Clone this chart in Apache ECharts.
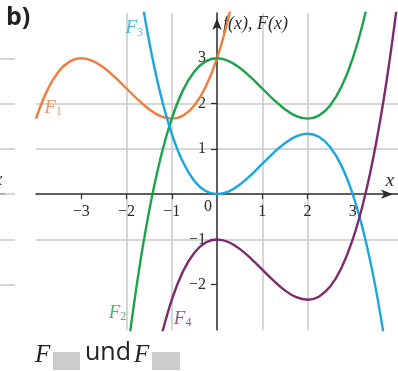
<!DOCTYPE html>
<html>
<head>
<meta charset="utf-8">
<title>F1 - F4</title>
<script src="https://cdn.jsdelivr.net/npm/echarts@6/dist/echarts.min.js"></script>
<style>
  html, body { margin: 0; padding: 0; background: #fff; }
  #main { width: 398px; height: 371px; }
</style>
</head>
<body>
<div id="main"></div>
<script type="text/javascript">
// values, step 0.25
var f1X = [-4, -3.75, -3.5, -3.25, -3, -2.75, -2.5, -2.25, -2, -1.75, -1.5, -1.25, -1, -0.75, -0.5, -0.25, 0, 0.25, 0.5];
var f1Y = [1.667, 2.297, 2.708, 2.932, 3, 2.943, 2.792, 2.578, 2.333, 2.089, 1.875, 1.724, 1.667, 1.734, 1.958, 2.37, 3, 3.88, 5.04];

var f2X = [-2, -1.75, -1.5, -1.25, -1, -0.75, -0.5, -0.25, 0, 0.25, 0.5, 0.75, 1, 1.25, 1.5, 1.75, 2, 2.25, 2.5, 2.75, 3, 3.25, 3.5];
var f2Y = [-3.667, -1.849, -0.375, 0.786, 1.667, 2.297, 2.708, 2.932, 3, 2.943, 2.792, 2.578, 2.333, 2.089, 1.875, 1.724, 1.667, 1.734, 1.958, 2.37, 3, 3.88, 5.04];

var f3X = [-1.75, -1.5, -1.25, -1, -0.75, -0.5, -0.25, 0, 0.25, 0.5, 0.75, 1, 1.25, 1.5, 1.75, 2, 2.25, 2.5, 2.75, 3, 3.25, 3.5, 3.75];
var f3Y = [4.849, 3.375, 2.214, 1.333, 0.703, 0.292, 0.068, 0, 0.057, 0.208, 0.422, 0.667, 0.911, 1.125, 1.276, 1.333, 1.266, 1.042, 0.63, 0, -0.88, -2.042, -3.516];

var f4X = [-1.25, -1, -0.75, -0.5, -0.25, 0, 0.25, 0.5, 0.75, 1, 1.25, 1.5, 1.75, 2, 2.25, 2.5, 2.75, 3, 3.25, 3.5, 3.75, 4];
var f4Y = [-3.214, -2.333, -1.703, -1.292, -1.068, -1, -1.057, -1.208, -1.422, -1.667, -1.911, -2.125, -2.276, -2.333, -2.266, -2.042, -1.63, -1, -0.12, 1.042, 2.516, 4.333];

var xTicks = [-3, -2, -1, 1, 2, 3];
var xLabels = [-3, -2, -1, 0, 1, 2, 3];
var yTicks = [-2, -1, 1, 2, 3];

var curveNames = ['1', '2', '3', '4'];
// where the F-labels sit, in axis units
var labelPos = [[-3.62, 1.9], [-2.2, -2.62], [-1.83, 3.66], [-0.76, -2.76]];

var colors = ['#ef7d3c', '#1aa34a', '#1ba6e0', '#7d2a6f'];

function pairs(xs, ys) {
    var out = [];
    for (var i = 0; i < xs.length; i++) out.push([xs[i], ys[i]]);
    return out;
}
function minus(v) {
    return String(v).replace('-', '\u2212');
}

var serif = '"Liberation Serif", "DejaVu Serif", serif';
var sans = '"Open Sans", "Noto Sans", sans-serif';
var gridColor = '#c8c8c8';
var axisColor = '#2a2a2a';

var myChart = echarts.init(document.getElementById('main'));

var curves = [[f1X, f1Y], [f2X, f2Y], [f3X, f3Y], [f4X, f4Y]];
var series = [];
for (var i = 0; i < curves.length; i++) {
    series.push({
        type: 'line',
        name: 'F' + curveNames[i],
        data: pairs(curves[i][0], curves[i][1]),
        smooth: 0.4,
        showSymbol: false,
        silent: true,
        clip: true,
        lineStyle: { color: colors[i], width: 2.4 },
        z: 3
    });
}

var labelData = [];
for (var k = 0; k < curveNames.length; k++) {
    labelData.push({
        value: labelPos[k],
        name: curveNames[k],
        label: { color: colors[k] }
    });
}
series.push({
    type: 'scatter',
    data: labelData,
    symbolSize: 0,
    silent: true,
    label: {
        show: true,
        position: 'inside',
        formatter: function (p) { return '{f|F}{s|' + p.name + '}'; },
        rich: {
            f: { fontFamily: serif, fontStyle: 'italic', fontSize: 19, lineHeight: 20 },
            s: { fontFamily: serif, fontSize: 12, lineHeight: 8, verticalAlign: 'bottom' }
        }
    },
    z: 4
});

var option = {
    animation: false,
    grid: [
        { left: 36, right: 0, top: 13, bottom: 41, outerBoundsMode: 'none' },
        { left: -185, width: 200, top: 13, bottom: 41, outerBoundsMode: 'none' }
    ],
    xAxis: [{
        type: 'value',
        position: 'bottom',
        min: -4,
        max: 4,
        interval: 1,
        name: 'x',
        nameLocation: 'end',
        nameGap: -8,
        nameTextStyle: {
            fontFamily: serif, fontStyle: 'italic', fontSize: 19, color: axisColor,
            align: 'center', verticalAlign: 'bottom', padding: [0, 0, 4, 0]
        },
        axisLine: {
            onZero: false,
            symbol: ['none', 'arrow'],
            symbolSize: [7, 12],
            symbolOffset: [0, -5],
            lineStyle: { color: axisColor, width: 1.5 }
        },
        axisTick: { show: true, length: 5, customValues: xTicks, lineStyle: { color: axisColor, width: 1.2 } },
        axisLabel: {
            customValues: xLabels,
            margin: 10,
            fontFamily: serif,
            fontSize: 16,
            color: axisColor,
            formatter: function (v) {
                if (v === 0) return '{z|0}';
                return minus(v);
            },
            rich: {
                z: { fontFamily: serif, fontSize: 16, color: axisColor, padding: [0, 18, 0, 0], lineHeight: 6 }
            }
        },
        splitLine: {
            show: true, showMinLine: false, showMaxLine: false,
            lineStyle: { color: gridColor, width: 1.5 }
        }
    }, {
        gridIndex: 1, type: 'value', min: 0, max: 1, show: false
    }],
    yAxis: [{
        type: 'value',
        position: 'left',
        min: -3,
        max: 4,
        interval: 1,
        name: 'f(x), F(x)',
        nameLocation: 'end',
        nameGap: -11,
        nameTextStyle: {
            fontFamily: serif, fontStyle: 'italic', fontSize: 18, color: axisColor,
            align: 'left', verticalAlign: 'middle', padding: [0, 0, 0, 6]
        },
        axisLine: {
            onZero: false,
            symbol: ['none', 'arrow'],
            symbolSize: [7, 12],
            symbolOffset: [0, -5],
            lineStyle: { color: axisColor, width: 1.5 }
        },
        axisTick: { show: true, length: 6, customValues: yTicks, lineStyle: { color: axisColor, width: 1.2 } },
        axisLabel: {
            customValues: yTicks,
            margin: 11,
            fontFamily: serif,
            fontSize: 16,
            color: axisColor,
            formatter: minus
        },
        splitLine: {
            show: true, showMinLine: false, showMaxLine: false,
            lineStyle: { color: gridColor, width: 1.5 }
        }
    }, {
        gridIndex: 1,
        type: 'value',
        min: -3,
        max: 4,
        interval: 1,
        axisLine: { show: false },
        axisTick: { show: false },
        axisLabel: { show: false },
        splitLine: {
            show: true, showMinLine: false, showMaxLine: false,
            lineStyle: { color: gridColor, width: 1.5 }
        }
    }],
    graphic: [
        { type: 'text', left: 6, top: 5, style: { text: 'b)', fontFamily: sans, fontWeight: 'bold', fontSize: 25, fill: '#222' } },
        { type: 'line', shape: { x1: 0, y1: 194, x2: 5, y2: 194 }, style: { stroke: axisColor, lineWidth: 1.5 } },
        { type: 'text', left: -6, top: 170, style: { text: 'x', fontFamily: serif, fontStyle: 'italic', fontSize: 19, fill: axisColor } },
        { type: 'text', left: 35, top: 343, style: { text: 'F', fontFamily: serif, fontStyle: 'italic', fontSize: 25, fill: '#222' } },
        { type: 'rect', shape: { x: 53, y: 352, width: 27, height: 18 }, style: { fill: '#cbcbcb' } },
        { type: 'text', left: 85, top: 340, style: { text: 'und', fontFamily: sans, fontSize: 25, fill: '#222' } },
        { type: 'text', left: 134, top: 343, style: { text: 'F', fontFamily: serif, fontStyle: 'italic', fontSize: 25, fill: '#222' } },
        { type: 'rect', shape: { x: 152, y: 352, width: 28, height: 18 }, style: { fill: '#cbcbcb' } }
    ],
    series: series
};

myChart.setOption(option);

// move both axes onto the origin (labels travel with them)
var origin = myChart.convertToPixel({ gridIndex: 0 }, [0, 0]);
var corner = myChart.convertToPixel({ gridIndex: 0 }, [-4, -3]);
myChart.setOption({
    xAxis: [{ offset: -(corner[1] - origin[1]) }, {}],
    yAxis: [{ offset: -(origin[0] - corner[0]) }, {}]
});
</script>
</body>
</html>
